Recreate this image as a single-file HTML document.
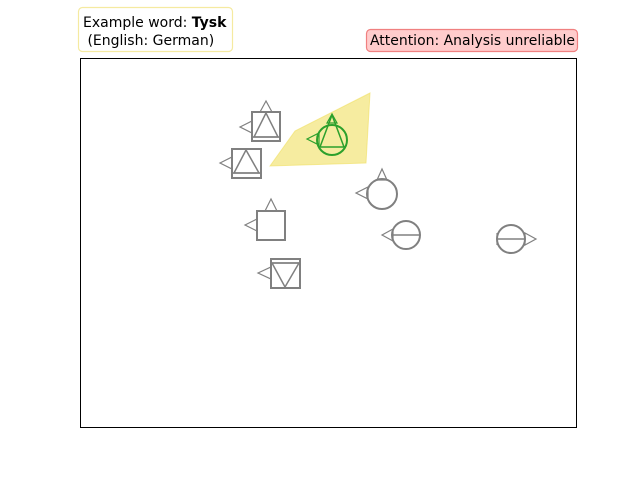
<!DOCTYPE html>
<html><head><style>
body{margin:0;background:#fff;width:640px;height:480px;overflow:hidden;font-family:"DejaVu Sans","Liberation Sans",sans-serif;}
</style></head><body>
<svg width="640" height="480" xmlns="http://www.w3.org/2000/svg" style="position:absolute;left:0;top:0">
<rect x="80.5" y="58.5" width="496" height="369" fill="none" stroke="#000" stroke-width="1"/>
<polygon points="270,166 295,131 370,93 366,163" fill="#f0e060" fill-opacity="0.6" stroke="#f0e060" stroke-opacity="0.6"/>
<g fill="none" stroke="#808080" stroke-width="2">
 <rect x="252" y="112" width="28" height="29"/>
 <line x1="252" y1="137" x2="280" y2="137" stroke-width="1.5"/>
 <polygon points="266,113 254,137 278,137" stroke-width="1.5"/>
 <polygon points="266,101 260,112 272,112" stroke-width="1.2"/>
 <polygon points="240,127 252,121 252,133" stroke-width="1.2"/>
 <rect x="232" y="149" width="29" height="29"/>
 <line x1="232" y1="173" x2="261" y2="173" stroke-width="1.5"/>
 <polygon points="246,150 234,173 259,173" stroke-width="1.5"/>
 <polygon points="220,163 232,157 232,169" stroke-width="1.2"/>
 <rect x="257" y="211" width="28" height="29"/>
 <polygon points="271,199 265,211 277,211" stroke-width="1.2"/>
 <polygon points="245,225 257,219 257,231" stroke-width="1.2"/>
 <rect x="271" y="259" width="29" height="29"/>
 <line x1="271" y1="263" x2="300" y2="263" stroke-width="1.5"/>
 <polygon points="272,263 299,263 285,287" stroke-width="1.5"/>
 <polygon points="258,273 271,267 271,279" stroke-width="1.2"/>
 <circle cx="382" cy="194" r="15"/>
 <polygon points="382,169 377,180 387,180" stroke-width="1.2"/>
 <polygon points="356,193 368,187 368,199" stroke-width="1.2"/>
 <circle cx="406" cy="235" r="14"/>
 <line x1="392" y1="235" x2="420" y2="235" stroke-width="1.5"/>
 <polygon points="382,235 393,229 393,241" stroke-width="1.2"/>
 <circle cx="511" cy="239" r="14"/>
 <line x1="497" y1="239" x2="525" y2="239" stroke-width="1.5"/>
 <polygon points="536,239 525,233 525,245" stroke-width="1.2"/>
 <line x1="497" y1="233" x2="497" y2="245" stroke-width="1.2"/>
</g>
<g fill="none" stroke="#2ca02c" stroke-width="2">
 <circle cx="332" cy="140" r="15"/>
 <polygon points="332,115 320,147 344,147" stroke-width="1.5"/>
 <polygon points="332,114 327,123 337,123" stroke-width="1.2"/>
 <polygon points="307,139 319,133 319,145" stroke-width="1.2"/>
</g>
<rect x="78.5" y="7.5" width="154" height="44" rx="4" fill="#fff" stroke="#f5eaa0" stroke-width="1.2"/>
<text x="83" y="27" font-size="14" fill="#000">Example word: <tspan font-weight="bold">Tysk</tspan></text>
<text x="83" y="45" font-size="14" fill="#000" xml:space="preserve"> (English: German)</text>
<rect x="366.5" y="29.5" width="211" height="22" rx="4" fill="#ffcccc" stroke="#f08080" stroke-width="1.2"/>
<text x="370" y="45" font-size="14" fill="#000" textLength="205" lengthAdjust="spacingAndGlyphs">Attention: Analysis unreliable</text>
</svg>
</body></html>
